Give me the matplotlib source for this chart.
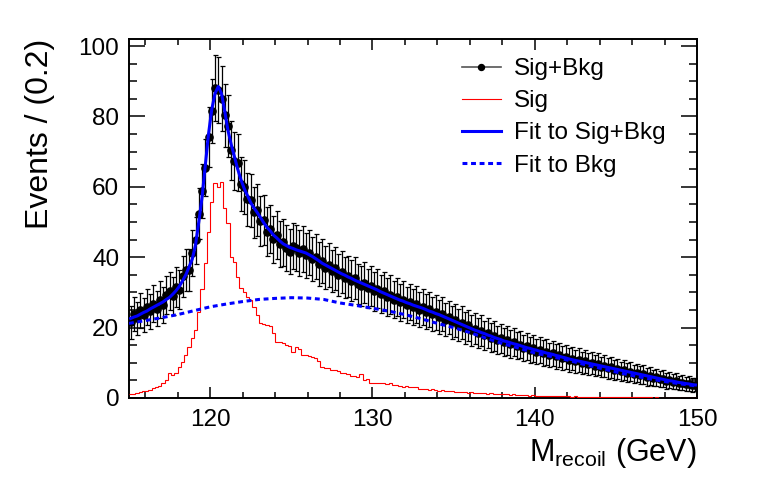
import numpy as np
import matplotlib
matplotlib.use("Agg")
import matplotlib.pyplot as plt
from matplotlib.lines import Line2D

plt.rcParams["font.family"] = ["Liberation Sans", "DejaVu Sans"]
plt.rcParams["mathtext.fontset"] = "custom"
plt.rcParams["mathtext.rm"] = "Liberation Sans"
plt.rcParams["mathtext.it"] = "Liberation Sans"

# --- Binning: 0.2 GeV bins from 115 to 150 ---
x_lo, x_hi, bin_w = 115.0, 150.0, 0.2
edges   = np.round(np.arange(x_lo, x_hi + bin_w / 2, bin_w), 1)   # 176 edges
centers = 0.5 * (edges[:-1] + edges[1:])                          # 175 centers

# --- Sig+Bkg pseudo-data (events per bin) ---
data_sb = [
    21.5, 23.8, 22.6, 24.9, 23.5, 25.9, 24.6, 26.8, 25.4, 27.9,
    26.5, 29.2, 30.4, 28.9, 31.6, 30.8, 34.6, 36.3, 36.4, 41.2,
    44.8, 52.3, 58.9, 65.4, 74.2, 81.5, 88.1, 87.6, 85.0, 80.3,
    77.2, 70.4, 67.3, 66.9, 60.8, 59.9, 56.4, 56.2, 52.8, 53.4,
    50.2, 50.6, 47.3, 48.0, 45.1, 46.2, 43.8, 44.3, 42.5, 41.6,
    43.1, 42.6, 41.2, 42.3, 40.5, 41.3, 39.4, 40.2, 38.1, 38.9,
    37.0, 37.8, 36.1, 36.9, 35.0, 35.9, 34.2, 34.6, 33.3, 34.1,
    32.4, 31.9, 32.8, 31.2, 31.8, 30.3, 31.1, 29.6, 30.3, 28.7,
    29.4, 27.9, 28.7, 27.2, 27.9, 26.5, 27.3, 25.8, 26.6, 25.1,
    25.9, 24.5, 25.2, 23.8, 24.4, 23.0, 23.8, 22.3, 22.9, 21.5,
    22.1, 20.8, 21.4, 19.9, 20.6, 19.2, 19.7, 18.5, 19.1, 17.8,
    18.4, 17.1, 17.6, 16.5, 17.0, 15.8, 16.4, 15.3, 15.8, 14.8,
    15.2, 14.2, 14.7, 13.7, 14.1, 13.2, 13.6, 12.8, 13.1, 12.2,
    12.7, 11.8, 12.2, 11.3, 11.7, 10.8, 11.2, 10.4, 10.8, 10.0,
    10.4, 9.6, 9.9, 9.2, 9.6, 8.8, 9.1, 8.4, 8.7, 8.0,
    8.3, 7.6, 7.9, 7.2, 7.5, 6.8, 7.1, 6.5, 6.7, 6.0,
    6.3, 5.7, 5.9, 5.3, 5.5, 4.9, 5.1, 4.6, 4.8, 4.3,
    4.4, 4.0, 4.1, 3.7, 3.8,
]

# --- Signal-only histogram (per bin) ---
sig = [
    1.0, 1.2, 1.4, 1.6, 1.9, 2.1, 2.4, 2.8, 3.0, 3.3,
    4.4, 5.1, 7.0, 6.4, 7.2, 8.9, 10.3, 12.2, 14.6, 17.0,
    19.3, 24.5, 31.0, 38.3, 47.2, 55.8, 61.0, 60.0, 61.5, 53.9,
    49.6, 40.1, 38.5, 34.5, 31.2, 30.2, 28.8, 27.8, 25.9, 23.6,
    21.3, 20.9, 20.7, 20.5, 18.5, 16.0, 16.0, 15.6, 15.2, 14.8,
    13.1, 14.4, 13.8, 12.2, 12.2, 12.0, 11.7, 11.5, 10.5, 8.9,
    8.6, 8.4, 8.0, 8.0, 7.8, 7.0, 7.0, 6.8, 6.3, 6.3,
    6.1, 6.7, 5.1, 5.3, 4.2, 4.4, 4.2, 4.3, 4.2, 4.0,
    4.3, 3.7, 3.8, 3.5, 3.2, 3.3, 3.2, 3.1, 3.2, 2.6,
    2.6, 2.5, 2.4, 2.5, 2.2, 2.1, 2.2, 2.0, 1.9, 2.0,
    1.8, 1.7, 1.8, 1.6, 1.5, 1.6, 1.4, 1.5, 1.3, 1.4,
    1.2, 1.3, 1.1, 1.2, 1.0, 1.1, 1.0, 0.9, 1.0, 0.9,
    0.8, 0.9, 0.8, 0.7, 0.8, 0.7, 0.7, 0.6, 0.7, 0.6,
    0.6, 0.5, 0.6, 0.5, 0.5, 0.5, 0.4, 0.5, 0.4, 0.4,
    0.4, 0.4, 0.3, 0.4, 0.3, 0.3, 0.3, 0.3, 0.3, 0.2,
    0.3, 0.2, 0.2, 0.2, 0.2, 0.2, 0.2, 0.2, 0.2, 0.2,
    0.2, 0.1, 0.2, 0.1, 0.1, 0.1, 0.1, 0.1, 0.1, 0.1,
    0.1, 0.1, 0.1, 0.1, 0.1,
]

# --- Fit to Sig+Bkg, evaluated at bin centers ---
fit_sb = [
    22.6, 23.0, 23.3, 23.8, 24.3, 24.7, 25.3, 25.8, 26.3, 26.8,
    27.3, 28.0, 28.6, 29.5, 30.5, 31.7, 33.3, 35.0, 37.2, 39.5,
    43.5, 50.0, 57.0, 66.0, 75.0, 82.0, 86.5, 88.5, 86.5, 81.5,
    76.0, 72.0, 68.5, 65.0, 62.0, 59.5, 57.5, 55.5, 54.0, 52.7,
    51.3, 49.8, 48.5, 47.5, 46.3, 45.5, 44.6, 43.8, 43.3, 42.8,
    42.5, 42.1, 41.8, 41.5, 41.2, 40.7, 40.2, 39.6, 39.0, 38.3,
    37.8, 37.3, 36.8, 36.3, 35.8, 35.3, 34.9, 34.4, 34.0, 33.5,
    33.1, 32.7, 32.3, 31.9, 31.5, 31.1, 30.7, 30.2, 29.8, 29.4,
    29.0, 28.6, 28.2, 27.8, 27.5, 27.1, 26.8, 26.4, 26.1, 25.8,
    25.5, 25.1, 24.7, 24.4, 24.0, 23.7, 23.3, 22.9, 22.5, 22.1,
    21.7, 21.3, 20.9, 20.5, 20.1, 19.7, 19.3, 19.0, 18.6, 18.3,
    17.9, 17.6, 17.2, 16.9, 16.6, 16.2, 16.0, 15.7, 15.4, 15.2,
    14.9, 14.6, 14.3, 14.1, 13.8, 13.6, 13.3, 13.1, 12.8, 12.6,
    12.4, 12.1, 11.9, 11.6, 11.4, 11.1, 10.9, 10.7, 10.5, 10.3,
    10.1, 9.9, 9.7, 9.5, 9.3, 9.1, 8.9, 8.7, 8.5, 8.3,
    8.1, 7.9, 7.7, 7.5, 7.3, 7.1, 6.9, 6.7, 6.5, 6.3,
    6.1, 5.9, 5.7, 5.5, 5.3, 5.1, 4.9, 4.8, 4.6, 4.4,
    4.3, 4.1, 4.0, 3.8, 3.7,
]

# --- Fit to Bkg only, every 1 GeV ---
bkg_x   = list(range(115, 151))
fit_bkg = [
    21.2, 22.0, 22.8, 23.7, 24.8, 25.9, 26.7, 27.4, 28.0, 28.3,
    28.5, 28.4, 28.0, 27.0, 26.3, 25.5, 24.7, 23.7, 22.5, 21.2,
    20.0, 18.6, 17.0, 15.5, 14.2, 12.8, 11.8, 10.8, 9.6, 8.5,
    7.4, 6.4, 5.5, 4.7, 4.0, 3.4,
]

data_sb = np.array(data_sb)
err = np.sqrt(data_sb)

# --- Figure ---
W, H = 758, 487
fig = plt.figure(figsize=(W / 100, H / 100), dpi=100)
ax = fig.add_axes([129 / W, (H - 398) / H, 568 / W, 359 / H])

ax.errorbar(centers, data_sb, yerr=err, fmt="o", color="black", ms=5.2,
            elinewidth=0.9, capsize=1.8, capthick=0.9, zorder=2)
ax.stairs(sig, edges, baseline=None, color="red", lw=0.8, zorder=3)
ax.plot(centers, fit_sb, color="blue", lw=2.2, zorder=4)
ax.plot(bkg_x, fit_bkg, color="blue", lw=2.2, ls=(0, (1.6, 1.2)), zorder=5)

ax.set_xlim(x_lo, x_hi)
ax.set_ylim(0, 102)
ax.set_xticks([120, 130, 140, 150])
ax.set_xticks(np.arange(116, 150, 2), minor=True)
ax.set_yticks([0, 20, 40, 60, 80, 100])
ax.set_yticks(np.arange(0, 101, 5), minor=True)

ax.tick_params(which="both", direction="in", top=True, right=True,
               labelsize=17.5, width=1.1)
ax.tick_params(axis="x", which="major", length=8, pad=8)
ax.tick_params(axis="x", which="minor", length=4.3)
ax.tick_params(axis="y", which="major", length=11.5, pad=7)
ax.tick_params(axis="y", which="minor", length=5.8)
for s in ax.spines.values():
    s.set_linewidth(1.4)

ax.set_ylabel("Events / (0.2)", fontsize=23, loc="top")
ax.yaxis.set_label_coords(-0.13, 1.0)
ax.set_xlabel(r"M$_{\mathregular{recoil}}$ (GeV)", fontsize=22, loc="right")
ax.xaxis.set_label_coords(1.0, -0.105)

# --- Legend ---
handles = [
    Line2D([], [], color="#555555", lw=1.2, marker="o", ms=4.3,
           mfc="black", mec="black"),
    Line2D([], [], color="red", lw=0.8),
    Line2D([], [], color="blue", lw=2.2),
    Line2D([], [], color="blue", lw=2.2, ls=(0, (1.6, 1.2))),
]
labels = ["Sig+Bkg", "Sig", "Fit to Sig+Bkg", "Fit to Bkg"]
ax.legend(handles, labels, loc="upper left", bbox_to_anchor=(462 / W, 1 - 58 / H),
          bbox_transform=fig.transFigure, frameon=False, fontsize=17.5,
          handlelength=1.6, handletextpad=0.55, labelspacing=0.42,
          borderpad=0, borderaxespad=0)

fig.savefig("out.png", dpi=100)
